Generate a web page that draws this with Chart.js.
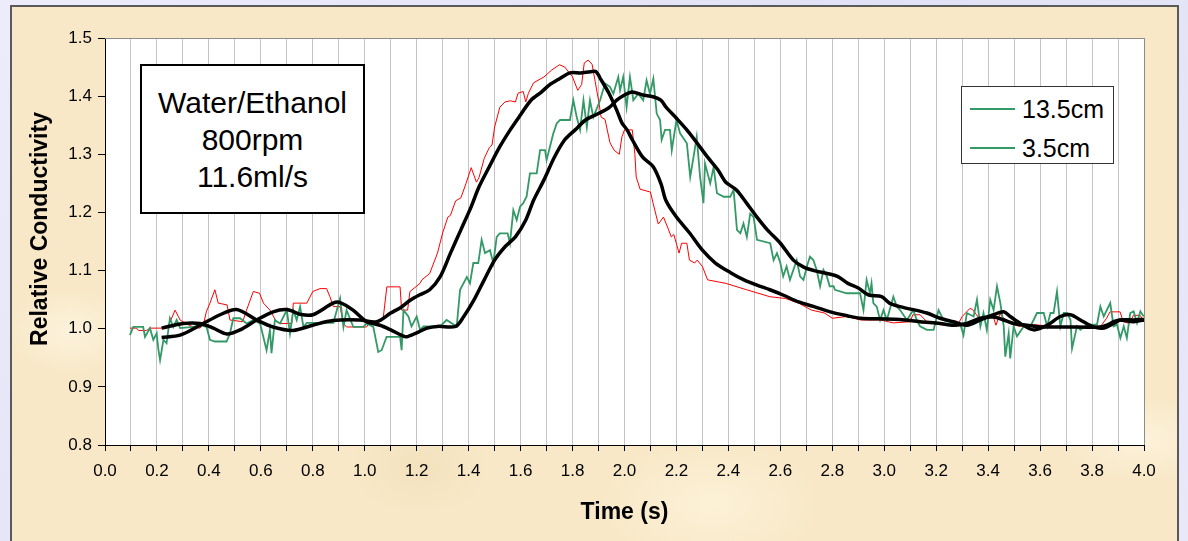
<!DOCTYPE html>
<html>
<head>
<meta charset="utf-8">
<script src="https://cdn.jsdelivr.net/npm/chart.js@4.4.1/dist/chart.umd.min.js"></script>
<style>
  html, body { margin: 0; padding: 0; }
  body {
    width: 1188px; height: 541px; overflow: hidden; position: relative;
    background: linear-gradient(135deg, #ececfb 0%, #e2e2f6 50%, #e8e8f9 100%);
    font-family: "Liberation Sans", Arial, sans-serif;
  }
  #panel {
    position: absolute; left: 10px; top: 5px; width: 1165px; height: 540px;
    border-left: 2px solid #5a5a5a; border-top: 2px solid #5a5a5a; border-right: 2px solid #5a5a5a;
    background-color: #f8e8c7;
    background-image:
      radial-gradient(ellipse 120px 80px at 15% 20%, rgba(255,248,230,0.7), rgba(255,248,230,0) 70%),
      radial-gradient(ellipse 160px 90px at 60% 92%, rgba(255,246,225,0.6), rgba(255,246,225,0) 70%),
      radial-gradient(ellipse 140px 100px at 85% 40%, rgba(240,220,180,0.45), rgba(240,220,180,0) 70%),
      radial-gradient(ellipse 100px 70px at 35% 85%, rgba(238,218,178,0.45), rgba(238,218,178,0) 70%),
      radial-gradient(ellipse 90px 60px at 5% 60%, rgba(255,250,235,0.6), rgba(255,250,235,0) 70%),
      radial-gradient(ellipse 120px 60px at 97% 80%, rgba(255,248,232,0.6), rgba(255,248,232,0) 70%);
  }
  #wrap { position: absolute; left: 0; top: 0; width: 1188px; height: 541px; }
  #ytitle {
    position: absolute; left: -111px; top: 214px; width: 300px; height: 30px;
    line-height: 30px; text-align: center; font-size: 23px; font-weight: bold; color: #000;
    transform: rotate(-90deg); white-space: nowrap;
  }
  #note {
    position: absolute; left: 140px; top: 64px; width: 221px; height: 146px;
    border: 2px solid #000; background: #fff;
    display: flex; flex-direction: column; justify-content: center; align-items: center;
    font-size: 30px; line-height: 37px; color: #000;
  }
  #legend {
    position: absolute; left: 961px; top: 86px; width: 151px; height: 76px;
    border: 1px solid #333; background: #fff;
  }
  .li { position: absolute; left: 8px; height: 30px; display: flex; align-items: center; font-size: 25px; color: #000; }
  .li .sw { width: 45px; height: 0; border-top: 2px solid #339966; margin-right: 7px; }
</style>
</head>
<body>
<div id="panel"></div>
<div id="wrap"><canvas id="c" width="1188" height="541"></canvas></div>
<div id="ytitle"></div>
<div id="note"><div>Water/Ethanol</div><div>800rpm</div><div>11.6ml/s</div></div>
<div id="legend"></div>
<script>
// ---------- data ----------
const seriesNames = ["13.5cm", "3.5cm"];
const xAxisTitle = "Time (s)";
const yAxisTitle = "Relative Conductivity";
const xTickMin = 0.0, xTickMax = 4.0, xTickStep = 0.1;
const yTickMin = 0.8, yTickMax = 1.5, yTickStep = 0.1;

// 13.5cm raw (red)
const redT = [0.096,0.12,0.13,0.16,0.173,0.24,0.27,0.289,0.31,0.34,0.366,0.38,0.39,0.404,0.423,0.436,0.47,0.481,0.53,0.545,0.571,0.595,0.61,0.635,0.66,0.674,0.719,0.725,0.777,0.80,0.828,0.853,0.866,0.879,0.905,0.918,0.93,1.007,1.02,1.046,1.071,1.085,1.136,1.142,1.165,1.174,1.213,
1.22,1.25,1.28,1.30,1.32,1.33,1.35,1.37,1.39,1.41,1.43,1.44,1.46,1.48,1.49,1.50,1.52,1.54,1.56,1.58,1.59,1.61,1.62,1.63,1.65,1.69,1.72,1.75,1.77,1.80,1.82,1.835,1.845,1.86,1.875,1.886,1.90,1.91,1.925,1.944,1.96,1.98,1.99,2.0,2.03,2.04,2.045,2.06,2.10,2.11,2.13,2.15,2.17,2.18,2.19,2.21,2.22,2.24,2.25,2.27,2.28,2.30,2.32,2.39,2.47,2.56,2.62,2.67,2.72,2.77,2.80,2.855,2.91,2.985,3.035,3.10,3.11,3.138,3.164,3.215,3.28,3.30,3.33,3.34,3.37,3.394,3.42,3.43,3.445,3.48,3.52,3.574,3.70,3.83,3.856,3.869,3.908,3.92,3.945,3.959,3.985,4.0];
const redV = [1.001,1.001,0.997,0.997,1.001,1.001,1.032,1.015,1.009,1.003,1.001,1.009,1.029,1.044,1.067,1.044,1.041,1.015,1.012,1.032,1.064,1.061,1.044,1.032,1.012,1.009,1.009,1.044,1.044,1.064,1.069,1.069,1.055,1.038,1.038,1.009,1.003,1.003,1.012,1.012,1.018,1.072,1.072,1.032,1.032,1.064,1.078,
1.084,1.095,1.13,1.165,1.192,1.195,1.22,1.225,1.25,1.277,1.252,1.26,1.293,1.312,1.316,1.347,1.381,1.39,1.392,1.39,1.405,1.408,1.39,1.405,1.423,1.433,1.445,1.454,1.45,1.433,1.41,1.42,1.457,1.462,1.455,1.428,1.393,1.364,1.36,1.32,1.307,1.30,1.33,1.342,1.342,1.30,1.261,1.24,1.235,1.216,1.18,1.192,1.17,1.158,1.162,1.13,1.147,1.147,1.118,1.113,1.118,1.107,1.084,1.078,1.067,1.055,1.052,1.044,1.032,1.027,1.018,1.021,1.015,1.015,1.01,1.012,1.024,1.024,1.012,1.007,1.004,1.021,1.035,1.033,1.015,1.021,1.02,1.006,1.025,1.01,1.004,1.007,1.002,1.002,1.018,1.029,1.029,1.012,1.009,1.023,1.023,1.012];

// 3.5cm raw (green)
const greenT = [0.096,0.109,0.147,0.154,0.173,0.186,0.199,0.205,0.212,0.225,0.237,0.25,0.263,0.276,0.289,0.34,0.366,0.391,0.404,0.423,0.468,0.481,0.494,0.52,0.545,0.571,0.597,0.622,0.635,0.641,0.654,0.674,0.70,0.712,0.725,0.738,0.751,0.764,0.777,0.879,0.905,0.918,0.93,0.956,0.995,1.007,1.033,1.052,1.065,1.084,1.136,1.142,1.149,1.168,1.18,1.2,1.213,1.226,1.29,1.315,1.354,1.367,1.393,1.405,1.418,1.437,1.45,1.463,1.482,1.495,1.508,1.52,1.55,1.559,1.572,1.585,1.598,1.61,1.623,1.636,1.662,1.675,1.694,1.70,1.713,1.726,1.739,1.752,1.79,1.803,1.816,1.829,1.842,1.855,1.867,1.88,1.906,1.925,1.944,1.957,1.976,1.983,1.995,2.008,2.021,2.034,2.053,2.072,2.085,2.098,2.111,2.124,2.137,2.143,2.156,2.175,2.182,2.2,2.214,2.24,2.253,2.266,2.278,2.291,2.304,2.31,2.33,2.343,2.356,2.382,2.407,2.42,2.433,2.446,2.458,2.471,2.484,2.497,2.51,2.561,2.574,2.587,2.6,2.611,2.624,2.637,2.663,2.676,2.689,2.702,2.714,2.727,2.74,2.753,2.766,2.779,2.79,2.805,2.81,2.855,2.907,2.92,2.932,2.945,2.951,2.958,2.971,2.984,2.997,3.01,3.035,3.048,3.061,3.087,3.112,3.125,3.138,3.164,3.19,3.209,3.228,3.267,3.292,3.305,3.318,3.344,3.357,3.37,3.382,3.395,3.408,3.421,3.434,3.447,3.46,3.466,3.479,3.485,3.498,3.511,3.537,3.562,3.575,3.588,3.614,3.627,3.64,3.652,3.665,3.678,3.691,3.704,3.717,3.723,3.742,3.755,3.781,3.819,3.832,3.845,3.87,3.883,3.896,3.909,3.922,3.934,3.947,3.96,3.973,3.986,3.999];
const greenV = [0.989,1.003,1.003,0.986,1.001,0.981,0.992,0.966,0.946,0.981,0.975,1.018,1.003,1.015,1.001,1.003,1.006,1.003,0.981,0.978,0.978,0.992,1.018,1.018,1.009,1.015,1.009,0.963,0.998,0.958,1.015,1.009,1.032,0.992,1.032,1.015,1.038,1.003,1.01,1.01,1.052,1.003,1.032,1.003,1.003,1.009,1.003,0.96,0.963,0.986,0.986,0.963,1.032,1.021,1.004,1.021,0.998,1.004,1.004,1.015,1.004,1.067,1.089,1.078,1.113,1.113,1.153,1.13,1.135,1.113,1.158,1.164,1.164,1.147,1.204,1.187,1.21,1.216,1.227,1.267,1.267,1.307,1.307,1.29,1.313,1.336,1.353,1.359,1.359,1.393,1.364,1.342,1.393,1.347,1.393,1.364,1.393,1.422,1.416,1.404,1.433,1.41,1.433,1.381,1.433,1.393,1.404,1.393,1.427,1.404,1.43,1.37,1.359,1.325,1.342,1.342,1.307,1.359,1.336,1.319,1.261,1.296,1.33,1.261,1.216,1.284,1.25,1.278,1.233,1.227,1.227,1.239,1.17,1.164,1.181,1.158,1.198,1.192,1.153,1.147,1.118,1.13,1.113,1.09,1.107,1.084,1.118,1.09,1.084,1.107,1.124,1.118,1.101,1.073,1.101,1.09,1.073,1.073,1.067,1.061,1.061,1.032,1.084,1.061,1.078,1.044,1.038,1.015,1.032,1.015,1.055,1.038,1.032,1.015,1.032,1.015,1.004,0.998,0.998,1.032,1.015,1.009,1.009,0.989,1.027,1.021,1.05,1.004,1.027,0.998,1.05,1.032,1.073,1.044,1.004,0.952,0.992,0.949,1.004,0.987,1.004,1.004,1.015,1.027,1.027,1.004,1.027,1.027,1.064,1.004,1.027,1.027,1.015,0.966,1.004,0.998,1.007,1.007,1.038,1.021,1.044,1.004,1.007,0.984,1.004,0.984,1.027,1.03,1.01,1.03,1.021];

// smoothed 13.5cm (black)
const smoothAT = [0.218,0.289,0.366,0.443,0.507,0.584,0.647,0.724,0.80,0.878,0.98,1.046,1.10,1.14,1.175,1.21,1.25,1.29,1.33,1.37,1.41,1.44,1.48,1.52,1.56,1.60,1.64,1.68,1.71,1.75,1.79,1.83,1.87,1.89,1.91,1.94,1.97,1.99,2.01,2.03,2.07,2.11,2.14,2.16,2.20,2.25,2.30,2.35,2.41,2.46,2.51,2.56,2.61,2.67,2.73,2.80,2.86,2.91,2.98,3.06,3.138,3.215,3.267,3.318,3.37,3.421,3.46,3.498,3.549,3.60,3.70,3.83,3.857,3.883,3.909,3.96,4.0];
const smoothAV = [0.985,0.989,1.006,1.024,1.033,1.015,1.003,0.997,1.006,1.014,1.015,1.012,1.027,1.037,1.049,1.058,1.067,1.089,1.13,1.17,1.21,1.244,1.279,1.313,1.342,1.368,1.393,1.407,1.419,1.43,1.44,1.44,1.442,1.442,1.428,1.405,1.376,1.354,1.342,1.325,1.295,1.279,1.25,1.22,1.192,1.165,1.135,1.113,1.096,1.084,1.075,1.067,1.058,1.046,1.038,1.028,1.022,1.018,1.017,1.016,1.012,1.009,1.006,1.009,1.018,1.02,1.015,1.009,1.006,1.003,1.003,1.003,1.006,1.012,1.015,1.012,1.015];

// smoothed 3.5cm (black)
const smoothBT = [0.218,0.30,0.366,0.417,0.469,0.52,0.584,0.647,0.70,0.75,0.80,0.878,0.905,0.955,1.008,1.059,1.10,1.14,1.16,1.20,1.24,1.28,1.35,1.38,1.42,1.46,1.50,1.54,1.58,1.62,1.65,1.69,1.73,1.77,1.81,1.85,1.89,1.94,1.97,2.00,2.03,2.07,2.11,2.14,2.16,2.20,2.24,2.28,2.32,2.36,2.39,2.43,2.47,2.51,2.55,2.60,2.65,2.69,2.73,2.78,2.82,2.86,2.90,2.94,2.99,3.02,3.061,3.164,3.215,3.267,3.318,3.37,3.421,3.46,3.485,3.524,3.575,3.627,3.678,3.717,3.755,3.806,3.845,3.883,3.909,3.96,4.0];
const smoothBV = [1.001,1.009,1.009,1.001,0.991,0.998,1.015,1.029,1.033,1.025,1.024,1.044,1.045,1.032,1.012,1.006,0.998,0.989,0.986,0.993,1.001,1.004,1.004,1.02,1.049,1.084,1.118,1.141,1.158,1.187,1.221,1.256,1.295,1.325,1.342,1.359,1.368,1.38,1.393,1.402,1.407,1.402,1.399,1.393,1.381,1.362,1.342,1.319,1.295,1.273,1.252,1.239,1.216,1.192,1.17,1.147,1.118,1.106,1.10,1.095,1.09,1.078,1.07,1.058,1.055,1.044,1.038,1.027,1.018,1.012,1.006,1.015,1.024,1.029,1.021,1.009,0.998,1.006,1.021,1.024,1.015,1.003,1.001,1.009,1.015,1.015,1.016];

// ---------- build ----------
const pts = (ts, vs) => ts.map((t, i) => ({ x: t, y: vs[i] }));
const RED = "#ff0000", GREEN = "#339966", BLACK = "#000000";

document.getElementById("ytitle").textContent = yAxisTitle;
const legendEl = document.getElementById("legend");
seriesNames.forEach((name, i) => {
  const d = document.createElement("div");
  d.className = "li";
  d.style.top = (7 + i * 39) + "px";
  d.innerHTML = '<span class="sw"></span><span></span>';
  d.lastChild.textContent = name;
  legendEl.appendChild(d);
});

const plotFrame = {
  id: "plotFrame",
  beforeDraw(chart) {
    const { ctx, chartArea: a } = chart;
    ctx.save();
    ctx.fillStyle = "#ffffff";
    ctx.fillRect(a.left, a.top, a.right - a.left, a.bottom - a.top);
    ctx.restore();
  },
  afterDraw(chart) {
    const { ctx, chartArea: a } = chart;
    ctx.save();
    ctx.strokeStyle = "#8c8c8c";
    ctx.lineWidth = 1;
    ctx.beginPath();
    ctx.moveTo(a.left, a.top + 0.5); ctx.lineTo(a.right, a.top + 0.5);
    ctx.moveTo(a.right + 0.5, a.top); ctx.lineTo(a.right + 0.5, a.bottom);
    ctx.stroke();
    ctx.restore();
  }
};

const tickFont = { family: "'Liberation Sans', Arial, sans-serif", size: 17 };
const titleFont = { family: "'Liberation Sans', Arial, sans-serif", size: 23, weight: "bold" };

new Chart(document.getElementById("c"), {
  type: "line",
  data: {
    datasets: [
      { label: seriesNames[0], data: pts(redT, redV), borderColor: RED, borderWidth: 1, pointRadius: 0, tension: 0, order: 4 },
      { label: seriesNames[1], data: pts(greenT, greenV), borderColor: GREEN, borderWidth: 1.8, pointRadius: 0, tension: 0, order: 3 },
      { label: seriesNames[0] + " smoothed", data: pts(smoothAT, smoothAV), borderColor: BLACK, borderWidth: 3.5, pointRadius: 0, tension: 0.3, order: 2 },
      { label: seriesNames[1] + " smoothed", data: pts(smoothBT, smoothBV), borderColor: BLACK, borderWidth: 3.5, pointRadius: 0, tension: 0.3, order: 1 }
    ]
  },
  options: {
    responsive: false,
    animation: false,
    events: [],
    layout: { padding: { top: 38, right: 44, left: 0, bottom: 0 } },
    plugins: { legend: { display: false }, tooltip: { enabled: false } },
    scales: {
      x: {
        type: "linear", min: xTickMin, max: xTickMax,
        afterFit: s => { s.height = 96; },
        ticks: {
          stepSize: xTickStep, autoSkip: false, maxRotation: 0, color: "#000", font: tickFont, padding: 10,
          callback: v => (Math.round(v * 10) % 2 === 0 ? v.toFixed(1) : "")
        },
        grid: { color: "#c4c4c4", lineWidth: 1, drawOnChartArea: true, drawTicks: true, tickLength: 6, tickColor: "#000" },
        border: { color: "#000", width: 1 },
        title: { display: true, text: xAxisTitle, color: "#000", font: titleFont, padding: { top: 0, bottom: 15 } }
      },
      y: {
        type: "linear", min: yTickMin, max: yTickMax,
        afterFit: s => { s.width = 105; },
        ticks: { stepSize: yTickStep, color: "#000", font: tickFont, padding: 6, callback: v => v.toFixed(1) },
        grid: { drawOnChartArea: false, drawTicks: true, tickLength: 7, tickColor: "#000" },
        border: { color: "#000", width: 1 },
        title: { display: false }
      }
    }
  },
  plugins: [plotFrame]
});
</script>
</body>
</html>
